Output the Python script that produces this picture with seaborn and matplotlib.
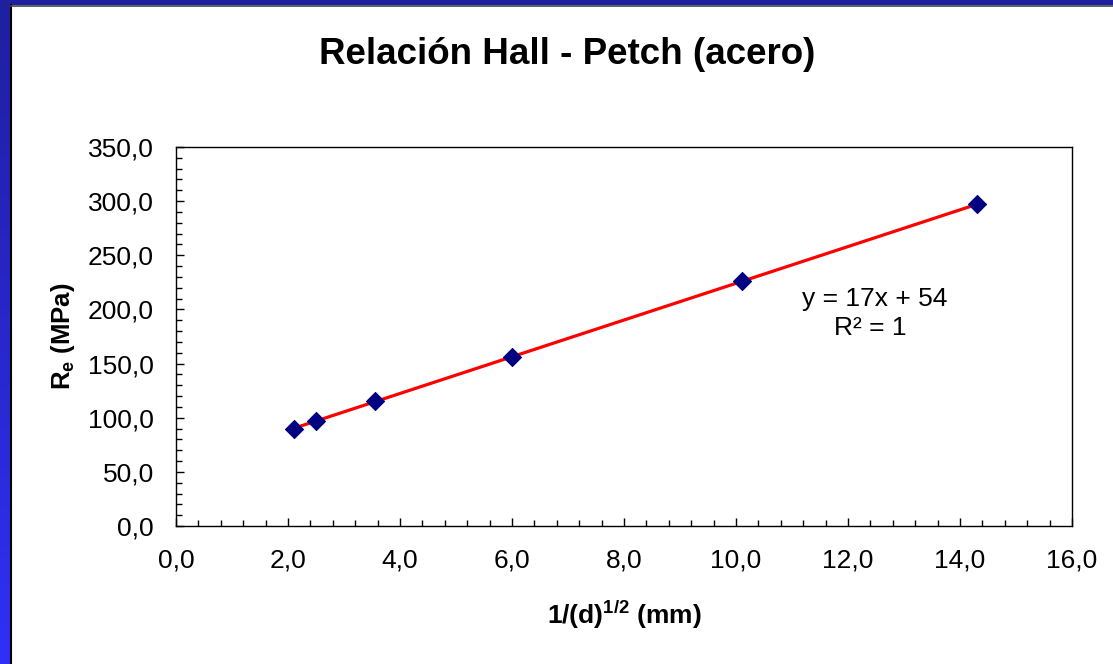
import numpy as np
import pandas as pd
import matplotlib
matplotlib.use("Agg")
import matplotlib.pyplot as plt
from matplotlib.ticker import MultipleLocator, FuncFormatter
from matplotlib.colors import LinearSegmentedColormap
import seaborn as sns

# Data
inv_sqrt_d = [2.1, 2.5, 3.55, 6.0, 10.1, 14.3]
re_mpa = [90.0, 97.0, 115.0, 156.0, 226.0, 297.0]
title_text = "Relación Hall - Petch (acero)"
eq_text = "y = 17x + 54"
r2_text = "R² = 1"

sns.set_theme(style="white")
plt.rcParams['font.family'] = ['Liberation Sans', 'DejaVu Sans']
plt.rcParams['mathtext.fontset'] = 'custom'
plt.rcParams['mathtext.rm'] = 'Liberation Sans'
plt.rcParams['mathtext.bf'] = 'Liberation Sans:bold'
plt.rcParams['mathtext.it'] = 'Liberation Sans:italic'
plt.rcParams['text.color'] = 'black'
plt.rcParams['axes.labelcolor'] = 'black'
plt.rcParams['xtick.color'] = 'black'
plt.rcParams['ytick.color'] = 'black'

df = pd.DataFrame({"x": inv_sqrt_d, "y": re_mpa})

W, H = 1113, 664
fig = plt.figure(figsize=(W / 100, H / 100), dpi=100)
fig.patch.set_facecolor("white")

# Blue frame: left gradient bar and top bar
bar = fig.add_axes([0, 0, 10 / W, 1])
grad = np.linspace(0, 1, 256).reshape(-1, 1)
cmap = LinearSegmentedColormap.from_list("frame", ["#3030f8", "#1f1fa0"])
bar.imshow(grad, aspect="auto", cmap=cmap, origin="lower", extent=[0, 1, 0, 1])
bar.set_axis_off()
top = fig.add_axes([0, 1 - 5 / H, 1, 5 / H])
top.set_facecolor("#1f1fa0")
top.set_xticks([]); top.set_yticks([])
for s in top.spines.values():
    s.set_visible(False)
fig.add_artist(plt.Line2D([10.5 / W, 10.5 / W], [0, 1 - 5 / H], color="black", lw=1.5))
fig.add_artist(plt.Line2D([10 / W, 1], [1 - 5.8 / H, 1 - 5.8 / H], color="#444444", lw=1.2))

ax = fig.add_axes([176 / W, 1 - 526 / H, (1072 - 176) / W, (526 - 147) / H])
ax.set_facecolor("white")

sns.regplot(data=df, x="x", y="y", ax=ax, ci=None, scatter=False,
            line_kws=dict(color="#ff0000", lw=2.3, zorder=2))
sns.scatterplot(data=df, x="x", y="y", ax=ax, marker="D", s=85,
                color="#000080", edgecolor="#000080", zorder=3)

ax.set_xlim(0, 16)
ax.set_ylim(0, 350)
ax.xaxis.set_major_locator(MultipleLocator(2))
ax.xaxis.set_minor_locator(MultipleLocator(0.4))
ax.yaxis.set_major_locator(MultipleLocator(50))
ax.yaxis.set_minor_locator(MultipleLocator(10))
fmt = FuncFormatter(lambda v, p: f"{v:.1f}".replace(".", ","))
ax.xaxis.set_major_formatter(fmt)
ax.yaxis.set_major_formatter(fmt)
ax.tick_params(which="major", direction="in", length=6, width=1, color="black",
               labelsize=19, bottom=True, left=True, top=False, right=False)
ax.tick_params(which="minor", direction="in", length=4, width=1, color="black",
               bottom=True, left=True, top=False, right=False)
ax.tick_params(axis="x", pad=16)
ax.tick_params(axis="y", pad=16)
for s in ax.spines.values():
    s.set_color("black")
    s.set_linewidth(1.0)
    s.set_visible(True)

ax.set_xlabel(r"1/(d)$^{\mathbf{1/2}}$ (mm)", fontsize=19, fontweight="bold", labelpad=19)
ax.set_ylabel(r"$\mathbf{R}_{\mathbf{e}}$ (MPa)", fontsize=18.5, fontweight="bold", labelpad=8)

ax.text(12.48, 210, eq_text, fontsize=19, ha="center", va="center")
ax.text(12.4, 182.5, r2_text, fontsize=19, ha="center", va="center")

fig.text(567 / W, 1 - 55 / H, title_text, fontsize=26.5, fontweight="bold",
         ha="center", va="center")

fig.savefig("out.png", dpi=100, facecolor="white")
